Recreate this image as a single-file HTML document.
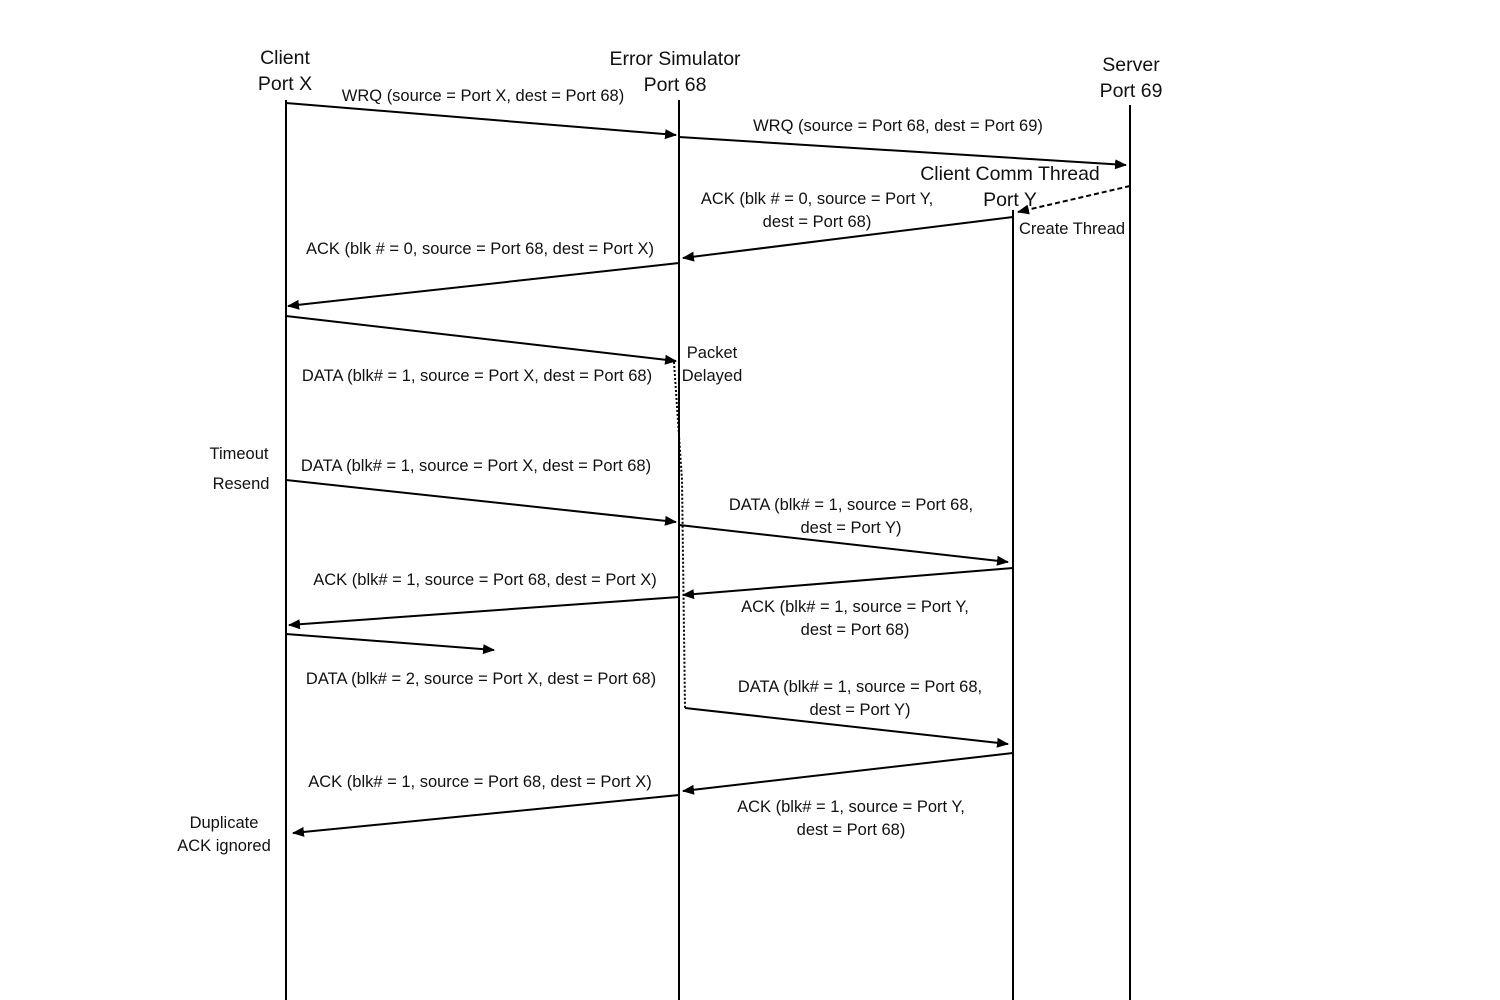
<!DOCTYPE html>
<html><head><meta charset="utf-8"><style>
html,body{margin:0;padding:0;background:#fff;}
svg{display:block;}
text{font-family:"Liberation Sans",sans-serif;font-size:16.5px;fill:#111;text-anchor:middle;}
.h{font-size:19.5px;}
</style></head><body>
<svg width="1500" height="1000" viewBox="0 0 1500 1000" xmlns="http://www.w3.org/2000/svg">
<defs>
<marker id="a" markerWidth="12" markerHeight="10" refX="11" refY="5" orient="auto" markerUnits="userSpaceOnUse">
<path d="M0,0 L12,5 L0,10 z" fill="#000"/></marker>
</defs>
<g stroke="#000" stroke-width="2" fill="none">
<line x1="286" y1="100" x2="286" y2="1000"/>
<line x1="679" y1="100" x2="679" y2="1000"/>
<line x1="1013" y1="210" x2="1013" y2="1000"/>
<line x1="1130" y1="105" x2="1130" y2="1000"/>
</g>
<g stroke="#000" stroke-width="2" fill="none" marker-end="url(#a)">
<line x1="286" y1="103" x2="676" y2="135"/>
<line x1="679" y1="137" x2="1126" y2="165"/>
<line x1="1130" y1="186" x2="1018" y2="212" stroke-dasharray="5,3"/>
<line x1="1013" y1="217" x2="683" y2="258"/>
<line x1="679" y1="263" x2="288" y2="306"/>
<line x1="286" y1="316" x2="676" y2="361"/>
<line x1="286" y1="480" x2="676" y2="522"/>
<line x1="679" y1="525" x2="1008" y2="562"/>
<line x1="1013" y1="568" x2="683" y2="595"/>
<line x1="679" y1="597" x2="289" y2="625"/>
<line x1="286" y1="634" x2="494" y2="650"/>
<line x1="685" y1="708" x2="1008" y2="744"/>
<line x1="1013" y1="753" x2="683" y2="791"/>
<line x1="679" y1="795" x2="293" y2="833"/>
</g>
<polyline points="674,362 682,480 685,708" stroke="#000" stroke-width="2" fill="none" stroke-dasharray="2,2"/>
<text class="h" x="285" y="64">Client</text>
<text class="h" x="285" y="90">Port X</text>
<text class="h" x="675" y="65">Error Simulator</text>
<text class="h" x="675" y="91">Port 68</text>
<text class="h" x="1131" y="71">Server</text>
<text class="h" x="1131" y="97">Port 69</text>
<text class="h" x="1010" y="180">Client Comm Thread</text>
<text class="h" x="1010" y="206">Port Y</text>
<text x="1072" y="234">Create Thread</text>
<text x="483" y="101">WRQ (source = Port X, dest = Port 68)</text>
<text x="898" y="131">WRQ (source = Port 68, dest = Port 69)</text>
<text x="817" y="204">ACK (blk # = 0, source = Port Y,</text>
<text x="817" y="227">dest = Port 68)</text>
<text x="480" y="254">ACK (blk # = 0, source = Port 68, dest = Port X)</text>
<text x="477" y="381">DATA (blk# = 1, source = Port X, dest = Port 68)</text>
<text x="712" y="358">Packet</text>
<text x="712" y="381">Delayed</text>
<text x="239" y="459">Timeout</text>
<text x="241" y="489">Resend</text>
<text x="476" y="471">DATA (blk# = 1, source = Port X, dest = Port 68)</text>
<text x="851" y="510">DATA (blk# = 1, source = Port 68,</text>
<text x="851" y="533">dest = Port Y)</text>
<text x="855" y="612">ACK (blk# = 1, source = Port Y,</text>
<text x="855" y="635">dest = Port 68)</text>
<text x="485" y="585">ACK (blk# = 1, source = Port 68, dest = Port X)</text>
<text x="481" y="684">DATA (blk# = 2, source = Port X, dest = Port 68)</text>
<text x="860" y="692">DATA (blk# = 1, source = Port 68,</text>
<text x="860" y="715">dest = Port Y)</text>
<text x="480" y="787">ACK (blk# = 1, source = Port 68, dest = Port X)</text>
<text x="851" y="812">ACK (blk# = 1, source = Port Y,</text>
<text x="851" y="835">dest = Port 68)</text>
<text x="224" y="828">Duplicate</text>
<text x="224" y="851">ACK ignored</text>
</svg>
</body></html>
